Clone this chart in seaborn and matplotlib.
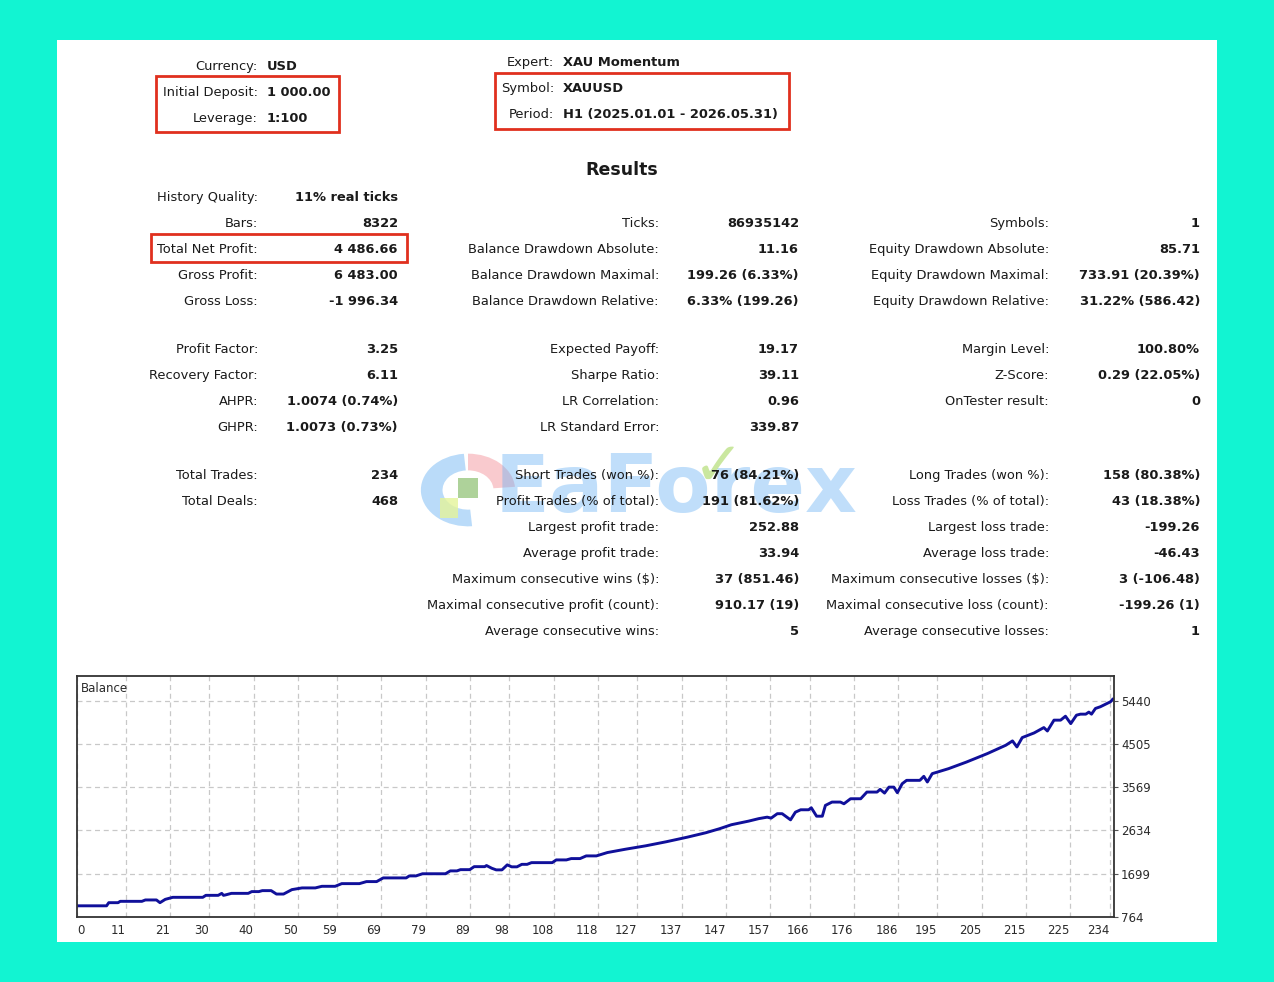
import numpy as np
import pandas as pd
import matplotlib
matplotlib.use("Agg")
import matplotlib.pyplot as plt
import seaborn as sns
from matplotlib.patches import Rectangle, Wedge

# ---- data ----
header_left_labels = ["Currency:", "Initial Deposit:", "Leverage:"]
header_left_values = ["USD", "1 000.00", "1:100"]
header_mid_labels = ["Expert:", "Symbol:", "Period:"]
header_mid_values = ["XAU Momentum", "XAUUSD", "H1 (2025.01.01 - 2026.05.31)"]

col1_labels = ["History Quality:", "Bars:", "Total Net Profit:", "Gross Profit:", "Gross Loss:",
               "Profit Factor:", "Recovery Factor:", "AHPR:", "GHPR:", "Total Trades:", "Total Deals:"]
col1_values = ["11% real ticks", "8322", "4 486.66", "6 483.00", "-1 996.34",
               "3.25", "6.11", "1.0074 (0.74%)", "1.0073 (0.73%)", "234", "468"]
col2_labels = ["Ticks:", "Balance Drawdown Absolute:", "Balance Drawdown Maximal:", "Balance Drawdown Relative:",
               "Expected Payoff:", "Sharpe Ratio:", "LR Correlation:", "LR Standard Error:",
               "Short Trades (won %):", "Profit Trades (% of total):", "Largest profit trade:",
               "Average profit trade:", "Maximum consecutive wins ($):", "Maximal consecutive profit (count):",
               "Average consecutive wins:"]
col2_values = ["86935142", "11.16", "199.26 (6.33%)", "6.33% (199.26)", "19.17", "39.11", "0.96", "339.87",
               "76 (84.21%)", "191 (81.62%)", "252.88", "33.94", "37 (851.46)", "910.17 (19)", "5"]
col3_labels = ["Symbols:", "Equity Drawdown Absolute:", "Equity Drawdown Maximal:", "Equity Drawdown Relative:",
               "Margin Level:", "Z-Score:", "OnTester result:", "Long Trades (won %):", "Loss Trades (% of total):",
               "Largest loss trade:", "Average loss trade:", "Maximum consecutive losses ($):",
               "Maximal consecutive loss (count):", "Average consecutive losses:"]
col3_values = ["1", "85.71", "733.91 (20.39%)", "31.22% (586.42)", "100.80%", "0.29 (22.05%)", "0",
               "158 (80.38%)", "43 (18.38%)", "-199.26", "-46.43", "3 (-106.48)", "-199.26 (1)", "1"]

# balance curve (trade number, balance)
trade_no = [0, 6.7, 7.2, 9.3, 9.8, 14.7, 15.5, 18, 18.8, 20, 21.7, 28.5, 29.2, 32, 32.8, 33.2, 33.6, 35,
            38.8, 39.6, 41.2, 42, 44, 45.2, 46.8, 48.7, 51, 54, 55.5, 58.5, 60, 64, 65.6, 67.9, 69.4, 74.6,
            75.3, 76.8, 78.3, 83.5, 84.6, 86.1, 86.9, 89, 90, 92.4, 92.8, 94, 95, 96.3, 97.5, 98.5, 99.7,
            100.8, 102, 103, 107.7, 108.6, 110.9, 112, 114, 115.4, 117.7, 120.2, 124.3, 128.9, 133.5,
            138.3, 142.5, 145.6, 148.3, 152.2, 154.5, 156.4, 157.3, 158.7, 159.8, 161.7, 162.8, 164,
            165.8, 166.4, 167.6, 168.9, 169.6, 171.1, 173, 173.8, 175.3, 177.6, 179, 181.3, 182, 183, 184,
            185.1, 185.9, 187, 188, 191, 191.9, 192.7, 193.8, 197.5, 201.6, 206.3, 210.5, 212, 213, 214.2,
            216.9, 219.1, 219.9, 221.4, 222.9, 224, 225.2, 226.5, 227.4, 228.6, 229.3, 229.9, 230.8, 231.9,
            234.2, 234.8]
balance = [1000, 1000, 1068, 1068, 1097, 1097, 1127, 1127, 1068, 1140, 1184, 1184, 1227, 1227, 1270, 1227,
           1235, 1270, 1270, 1308, 1308, 1329, 1329, 1255, 1255, 1351, 1388, 1388, 1423, 1423, 1481, 1481,
           1525, 1525, 1605, 1605, 1648, 1648, 1695, 1695, 1757, 1757, 1784, 1784, 1849, 1849, 1873, 1814,
           1779, 1779, 1888, 1845, 1845, 1899, 1899, 1936, 1936, 1995, 1995, 2024, 2024, 2082, 2082, 2155,
           2227, 2301, 2388, 2488, 2584, 2671, 2758, 2836, 2890, 2922, 2901, 2997, 2997, 2864, 3030, 3082,
           3082, 3126, 2943, 2943, 3177, 3249, 3249, 3212, 3321, 3321, 3466, 3466, 3525, 3444, 3573, 3573,
           3452, 3647, 3720, 3720, 3807, 3684, 3865, 3973, 4118, 4300, 4482, 4575, 4444, 4647, 4748, 4864,
           4790, 5025, 5025, 5110, 4950, 5133, 5155, 5155, 5199, 5155, 5279, 5315, 5423, 5487]

x_ticks = [0, 11, 21, 30, 40, 50, 59, 69, 79, 89, 98, 108, 118, 127, 137, 147, 157, 166, 176, 186,
           195, 205, 215, 225, 234]
y_ticks = [764, 1699, 2634, 3569, 4505, 5440]

# ---- figure ----
W, H = 1274, 982
sns.set_style("white")
plt.rcParams['font.family'] = ['DejaVu Sans']

fig = plt.figure(figsize=(W / 100, H / 100), dpi=100)
fig.patch.set_facecolor("#12f4d2")

FS = 9.4

def fx(x):
    return x / W

def fy(y):
    return 1 - y / H

def box(x0, y0, x1, y1, **kw):
    fig.add_artist(Rectangle((fx(x0), fy(y1)), fx(x1) - fx(x0), fy(y0) - fy(y1),
                             transform=fig.transFigure, **kw))

def put(x, y, s, **kw):
    fig.text(fx(x), fy(y), s, va="center_baseline", color="#1a1a1a", **kw)

# white panel
box(57, 40, 1217, 942, facecolor="white", edgecolor="none", zorder=0)

# watermark (drawn under the text)
fig.add_artist(Wedge((fx(468), fy(490)), 0.037, 95, 275, width=0.017, transform=fig.transFigure,
                     facecolor="#8cc4f6", alpha=0.6, edgecolor="none"))
fig.add_artist(Wedge((fx(468), fy(490)), 0.037, 5, 90, width=0.017, transform=fig.transFigure,
                     facecolor="#f6a8ae", alpha=0.6, edgecolor="none"))
box(458, 478, 478, 498, facecolor="#8cc070", alpha=0.7, edgecolor="none")
box(440, 498, 458, 518, facecolor="#e4f49a", alpha=0.8, edgecolor="none")
fig.text(fx(676), fy(490), "EaForex", ha="center", va="center", fontsize=58, fontweight="bold",
         color="#6ab2f4", alpha=0.42)
fig.text(fx(718), fy(468), "\u2713", ha="center", va="center", fontsize=44,
         color="#a8d860", alpha=0.6)

# header blocks
for i, (lab, val) in enumerate(zip(header_left_labels, header_left_values)):
    put(258, 65 + 26 * i, lab, ha="right", fontsize=FS)
    put(267, 65 + 26 * i, val, ha="left", fontsize=FS, fontweight="bold")
for i, (lab, val) in enumerate(zip(header_mid_labels, header_mid_values)):
    put(554, 61 + 26 * i, lab, ha="right", fontsize=FS)
    put(563, 61 + 26 * i, val, ha="left", fontsize=FS, fontweight="bold")

red = "#e0301e"
box(156, 76, 339, 132, facecolor="none", edgecolor=red, linewidth=2)
box(495, 73, 789, 129, facecolor="none", edgecolor=red, linewidth=2)
box(151, 234, 407, 262, facecolor="none", edgecolor=red, linewidth=2)

put(622, 168, "Results", ha="center", fontsize=12.5, fontweight="bold")

# results table
col1_y = [196, 222, 248, 274, 300, 348, 374, 400, 426, 474, 500]
col2_y = [222, 248, 274, 300, 348, 374, 400, 426, 474, 500, 526, 552, 578, 604, 630]
col3_y = [222, 248, 274, 300, 348, 374, 400, 474, 500, 526, 552, 578, 604, 630]
columns = [(col1_labels, col1_values, col1_y, 258, 398),
           (col2_labels, col2_values, col2_y, 659, 799),
           (col3_labels, col3_values, col3_y, 1049, 1200)]
for labels, values, ys, lx, vx in columns:
    for lab, val, y in zip(labels, values, ys):
        put(lx, y, lab, ha="right", fontsize=FS)
        put(vx, y, val, ha="right", fontsize=FS, fontweight="bold")

# balance chart
ax = fig.add_axes([fx(77), fy(916.7), fx(1114) - fx(77), fy(676) - fy(916.7)])
df = pd.DataFrame({"trade": trade_no, "balance": balance})
sns.lineplot(data=df, x="trade", y="balance", ax=ax, color="#10109a", linewidth=2.1,
             estimator=None, sort=True)
ax.set_xlim(0, 235)
ax.set_ylim(764, 5982)
ax.set_xticks(x_ticks)
ax.set_xticklabels([str(t) for t in x_ticks])
ax.set_yticks(y_ticks)
ax.set_yticklabels([str(t) for t in y_ticks])
ax.yaxis.tick_right()
ax.set_xlabel("")
ax.set_ylabel("")
ax.grid(True, color="#c8c8c8", linestyle=(0, (4, 3)), linewidth=0.9)
ax.tick_params(axis="both", direction="out", length=3, width=0.8, labelsize=8.5,
               labelcolor="#2a2a2a", color="#555555", pad=2)
for lbl in ax.get_xticklabels()[1:]:
    lbl.set_horizontalalignment("right")
ax.get_xticklabels()[0].set_horizontalalignment("left")
for sp in ax.spines.values():
    sp.set_color("#333333")
    sp.set_linewidth(1.3)
ax.text(0.004, 0.975, "Balance", transform=ax.transAxes, ha="left", va="top",
        fontsize=8.5, color="#2a2a2a")

fig.savefig("out.png", dpi=100, facecolor=fig.get_facecolor())
